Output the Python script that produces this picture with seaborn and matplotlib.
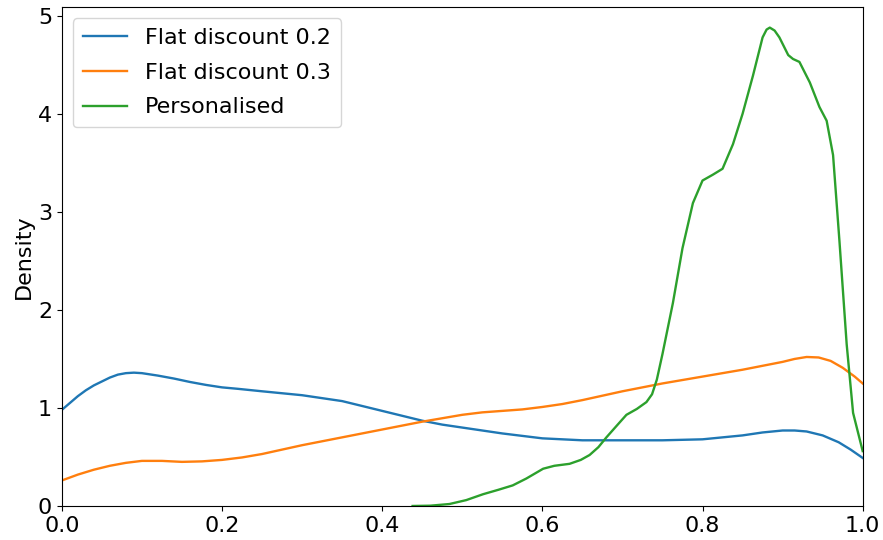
import pandas as pd
import seaborn as sns
import matplotlib.pyplot as plt

# density curves
flat02_x = [0.0, 0.01, 0.02, 0.03, 0.04, 0.05, 0.06, 0.07, 0.08, 0.09, 0.1, 0.12, 0.14,
            0.16, 0.18, 0.2, 0.22, 0.25, 0.3, 0.35, 0.375, 0.4, 0.425, 0.45, 0.475, 0.5,
            0.55, 0.6, 0.65, 0.7, 0.75, 0.8, 0.825, 0.85, 0.875, 0.9, 0.915, 0.93, 0.95,
            0.97, 0.985, 1.0]
flat02_y = [0.98, 1.05, 1.12, 1.18, 1.23, 1.27, 1.31, 1.34, 1.355, 1.36, 1.355, 1.33, 1.30,
            1.265, 1.235, 1.21, 1.195, 1.17, 1.13, 1.07, 1.02, 0.97, 0.92, 0.87, 0.83, 0.80,
            0.74, 0.69, 0.67, 0.67, 0.67, 0.68, 0.70, 0.72, 0.75, 0.77, 0.77, 0.76, 0.72,
            0.65, 0.575, 0.49]

flat03_x = [0.0, 0.02, 0.04, 0.06, 0.08, 0.1, 0.125, 0.15, 0.175, 0.2, 0.225, 0.25, 0.275,
            0.3, 0.35, 0.4, 0.45, 0.5, 0.525, 0.55, 0.575, 0.6, 0.625, 0.65, 0.7, 0.75,
            0.8, 0.85, 0.9, 0.915, 0.93, 0.945, 0.96, 0.975, 0.99, 1.0]
flat03_y = [0.26, 0.32, 0.37, 0.41, 0.44, 0.46, 0.46, 0.45, 0.455, 0.47, 0.495, 0.53, 0.575,
            0.62, 0.70, 0.78, 0.86, 0.93, 0.955, 0.97, 0.985, 1.01, 1.04, 1.08, 1.17, 1.25,
            1.32, 1.39, 1.47, 1.50, 1.52, 1.515, 1.48, 1.41, 1.32, 1.25]

pers_x = [0.438, 0.46, 0.484, 0.505, 0.526, 0.545, 0.563, 0.58, 0.601, 0.615, 0.634, 0.648,
          0.659, 0.67, 0.680, 0.693, 0.705, 0.718, 0.730, 0.737, 0.743, 0.750, 0.763, 0.775,
          0.788, 0.800, 0.813, 0.825, 0.838, 0.850, 0.863, 0.875, 0.880, 0.884, 0.890,
          0.896, 0.907, 0.913, 0.921, 0.934, 0.946, 0.955, 0.963, 0.971, 0.980, 0.988, 1.0]
pers_y = [0.0, 0.003, 0.02, 0.06, 0.12, 0.165, 0.21, 0.28, 0.38, 0.41, 0.43, 0.47,
          0.52, 0.60, 0.70, 0.82, 0.93, 0.99, 1.06, 1.14, 1.29, 1.55, 2.07, 2.63,
          3.09, 3.32, 3.38, 3.44, 3.69, 4.00, 4.39, 4.78, 4.86, 4.88, 4.85,
          4.78, 4.60, 4.56, 4.53, 4.32, 4.07, 3.93, 3.58, 2.70, 1.65, 0.95, 0.56]

labels = ['Flat discount 0.2', 'Flat discount 0.3', 'Personalised']

df = pd.concat([
    pd.DataFrame({'x': flat02_x, 'Density': flat02_y, 'policy': labels[0]}),
    pd.DataFrame({'x': flat03_x, 'Density': flat03_y, 'policy': labels[1]}),
    pd.DataFrame({'x': pers_x, 'Density': pers_y, 'policy': labels[2]}),
])

plt.rcParams['font.size'] = 16
fig, ax = plt.subplots(figsize=(8.83, 5.4), dpi=100)
sns.lineplot(data=df, x='x', y='Density', hue='policy', palette='tab10', ax=ax, linewidth=1.7)
ax.set_xlim(0, 1)
ax.set_ylim(0, 5.09)
ax.set_xlabel('')
ax.set_ylabel('Density', labelpad=3)
ax.legend(title=None, loc='upper left', labelspacing=0.66, borderpad=0.45)

plt.subplots_adjust(left=0.070, right=0.977, top=0.987, bottom=0.063)
plt.savefig('out.png', dpi=100)
